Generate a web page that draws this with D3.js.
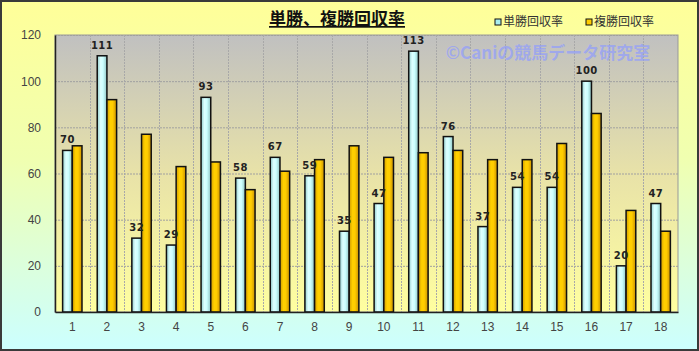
<!DOCTYPE html>
<html>
<head>
<meta charset="utf-8">
<script src="https://cdn.jsdelivr.net/npm/d3@7"></script>
<style>
  body { margin: 0; }
  svg { display: block; }
</style>
</head>
<body>
<script>
// ----------------------------------------
//  Data
// ----------------------------------------

var races = ["1","2","3","4","5","6","7","8","9","10","11","12","13","14","15","16","17","18"];
var tansho = [70,111,32,29,93,58,67,59,35,47,113,76,37,54,54,100,20,47];
var fukusho = [72,92,77,63,65,53,61,66,72,67,69,70,66,66,73,86,44,35];
var yTicks = [0,20,40,60,80,100,120];
var seriesNames = ["単勝回収率","複勝回収率"];

var W = 699, H = 351;
var margin = {top: 35, right: 21, bottom: 39, left: 55};
var width = W - margin.left - margin.right;
var height = H - margin.top - margin.bottom;

var svg = d3.select("body").append("svg")
    .attr("width", W)
    .attr("height", H);

// ----------------------------------------
//  Gradients
// ----------------------------------------

var defs = svg.append("defs");

function vgrad(id, stops) {
  var g = defs.append("linearGradient").attr("id", id)
    .attr("x1", 0).attr("y1", 0).attr("x2", 0).attr("y2", 1);
  stops.forEach(function(s) {
    g.append("stop").attr("offset", s[0]).attr("stop-color", s[1]);
  });
}
function hgrad(id, stops) {
  var g = defs.append("linearGradient").attr("id", id)
    .attr("x1", 0).attr("y1", 0).attr("x2", 1).attr("y2", 0);
  stops.forEach(function(s) {
    g.append("stop").attr("offset", s[0]).attr("stop-color", s[1]);
  });
}

vgrad("bgOuter", [[0, "#ffff99"], [0.45, "#f0ffb0"], [1, "#ccffff"]]);
vgrad("bgPlot", [[0, "#c0c0c0"], [0.5, "#e8e2a8"], [1, "#ffffa0"]]);
hgrad("barBlue", [[0, "#90cccc"], [0.35, "#ddffff"], [0.6, "#ccffff"], [1, "#90c4c4"]]);
hgrad("barGold", [[0, "#d09a00"], [0.35, "#ffd000"], [0.6, "#ffcc00"], [1, "#c89000"]]);

// outer background
svg.append("rect")
    .attr("x", 1).attr("y", 1)
    .attr("width", W - 2).attr("height", H - 2)
    .attr("fill", "url(#bgOuter)")
    .attr("stroke", "#3a3a3a")
    .attr("stroke-width", 2);

// ----------------------------------------
//  Scales
// ----------------------------------------

var x0 = d3.scaleBand()
    .domain(races)
    .range([0, width])
    .paddingInner(0.44)
    .paddingOuter(0.22);

var x1 = d3.scaleBand()
    .domain([0, 1])
    .range([0, x0.bandwidth()]);

var y = d3.scaleLinear()
    .domain([0, 120])
    .range([height, 0]);

var g = svg.append("g")
    .attr("transform", "translate(" + margin.left + "," + margin.top + ")");

// plot area
g.append("rect")
    .attr("width", width).attr("height", height)
    .attr("fill", "url(#bgPlot)")
    .attr("stroke", "#999");

// horizontal grid
g.append("g").selectAll("line")
    .data(yTicks.slice(1))
    .enter().append("line")
    .attr("x1", 0).attr("x2", width)
    .attr("y1", function(d) { return y(d) + 0.5; })
    .attr("y2", function(d) { return y(d) + 0.5; })
    .attr("stroke", "#a0a0a0")
    .attr("stroke-dasharray", "2,1");

// vertical grid (category boundaries)
var step = width / races.length;
g.append("g").selectAll("line")
    .data(races.slice(1))
    .enter().append("line")
    .attr("x1", function(d, i) { return Math.round((i + 1) * step) + 0.5; })
    .attr("x2", function(d, i) { return Math.round((i + 1) * step) + 0.5; })
    .attr("y1", 0).attr("y2", height)
    .attr("stroke", "#a8a8a8")
    .attr("stroke-dasharray", "2,1");

// ----------------------------------------
//  Watermark
// ----------------------------------------

g.append("text")
    .attr("x", 493).attr("y", 24)
    .attr("text-anchor", "middle")
    .attr("font-family", "'Noto Sans CJK JP', sans-serif")
    .attr("font-size", 17)
    .attr("font-weight", "bold")
    .attr("fill", "#8f9cff")
    .attr("fill-opacity", 0.7)
    .text("©Caniの競馬データ研究室");

// ----------------------------------------
//  Bars
// ----------------------------------------

var groups = g.append("g").selectAll("g")
    .data(races)
    .enter().append("g")
    .attr("transform", function(d) { return "translate(" + x0(d) + ",0)"; });

groups.append("rect")
    .attr("x", x1(0))
    .attr("width", x1.bandwidth())
    .attr("y", function(d, i) { return y(tansho[i]); })
    .attr("height", function(d, i) { return height - y(tansho[i]); })
    .attr("fill", "url(#barBlue)")
    .attr("stroke", "#111")
    .attr("stroke-width", 1.5);

groups.append("rect")
    .attr("x", x1(1))
    .attr("width", x1.bandwidth())
    .attr("y", function(d, i) { return y(fukusho[i]); })
    .attr("height", function(d, i) { return height - y(fukusho[i]); })
    .attr("fill", "url(#barGold)")
    .attr("stroke", "#111")
    .attr("stroke-width", 1.5);

// value labels over the blue bars
groups.append("text")
    .attr("x", x1(0) + x1.bandwidth() / 2)
    .attr("y", function(d, i) { return y(tansho[i]) - 7; })
    .attr("text-anchor", "middle")
    .attr("font-family", "'DejaVu Sans', sans-serif")
    .attr("font-size", 10)
    .attr("font-weight", "bold")
    .attr("letter-spacing", 0.5)
    .attr("fill", "#222")
    .text(function(d, i) { return tansho[i]; });

// ----------------------------------------
//  Axes
// ----------------------------------------

var yAxis = g.append("g")
    .call(d3.axisLeft(y).tickValues(yTicks).tickSize(0).tickPadding(14));
yAxis.select(".domain").attr("stroke", "#222").attr("stroke-width", 1.5);

var xAxis = g.append("g")
    .attr("transform", "translate(0," + height + ")")
    .call(d3.axisBottom(x0).tickSize(0).tickPadding(10));
xAxis.select(".domain").attr("stroke", "#222").attr("stroke-width", 1.5);

svg.selectAll(".tick text")
    .attr("font-family", "'Liberation Sans', Arial, sans-serif")
    .attr("font-size", 12)
    .attr("fill", "#444");

// ----------------------------------------
//  Title and legend
// ----------------------------------------

svg.append("text")
    .attr("x", 337).attr("y", 25)
    .attr("text-anchor", "middle")
    .attr("font-family", "'Noto Sans CJK JP', sans-serif")
    .attr("font-size", 17)
    .attr("font-weight", "bold")
    .attr("text-decoration", "underline")
    .attr("fill", "#111")
    .text("単勝、複勝回収率");

var legend = svg.append("g").selectAll("g")
    .data(seriesNames)
    .enter().append("g")
    .attr("transform", function(d, i) { return "translate(" + (495 + i * 91) + ",22)"; });

legend.append("rect")
    .attr("x", 0).attr("y", -3)
    .attr("width", 6).attr("height", 6)
    .attr("fill", function(d, i) { return i === 0 ? "#aaeeee" : "#ffcc00"; })
    .attr("stroke", "#111");

legend.append("text")
    .attr("x", 8).attr("y", 4)
    .attr("font-family", "'Noto Sans CJK JP', sans-serif")
    .attr("font-size", 12)
    .attr("fill", "#333")
    .text(function(d) { return d; });
</script>
</body>
</html>
